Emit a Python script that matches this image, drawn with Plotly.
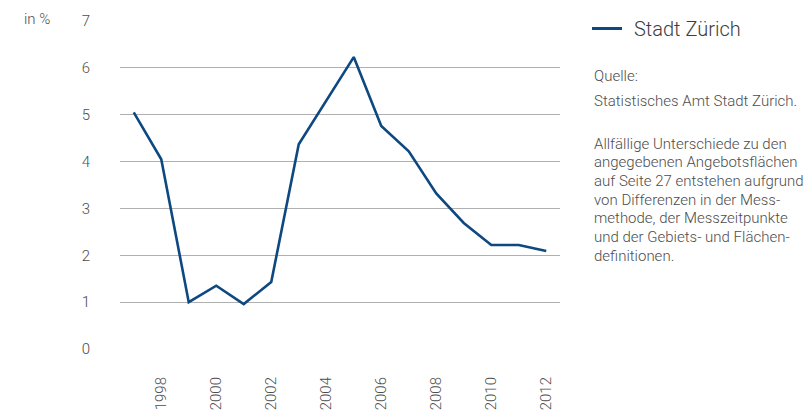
import plotly.graph_objects as go

# Leerstandsquote Stadt Zürich, in %
years = list(range(1997, 2013))
values = [5.05, 4.05, 1.0, 1.35, 0.96, 1.43, 4.37, 5.29, 6.23, 4.76, 4.22, 3.32, 2.69, 2.22, 2.22, 2.09]
y_ticks = [0, 1, 2, 3, 4, 5, 6, 7]
x_ticks = [1998, 2000, 2002, 2004, 2006, 2008, 2010, 2012]

series_name = "Stadt Zürich"
source_lines = ["Quelle:", "Statistisches Amt Stadt Zürich."]
note_lines = [
    "Allfällige Unterschiede zu den",
    "angegebenen Angebotsflächen",
    "auf Seite 27 entstehen aufgrund",
    "von Differenzen in der Mess-",
    "methode, der Messzeitpunkte",
    "und der Gebiets- und Flächen-",
    "definitionen.",
]

BLUE = "#0d4880"
TEXT = "#4d4d4d"
FONT = "Roboto Light, Roboto"
FS = 15

W, H = 807, 412
L, R, T, B = 120, 247, 21, 63
plot_w = W - L - R
plot_h = H - T - B


def px_x(px):
    return (px - L) / plot_w


def px_y(py):
    return (H - B - py) / plot_h


fig = go.Figure()
fig.add_trace(go.Scatter(
    x=years, y=values, mode="lines", name=series_name,
    line=dict(color=BLUE, width=2.6), hoverinfo="x+y",
))

fig.update_layout(
    width=W, height=H,
    margin=dict(l=L, r=R, t=T, b=B, autoexpand=False),
    paper_bgcolor="white", plot_bgcolor="white",
    font=dict(family=FONT, color=TEXT, size=FS, weight=300),
    showlegend=False,
    xaxis=dict(
        range=[1996.5, 2012.5], tickmode="array", tickvals=x_ticks,
        ticktext=[str(v) for v in x_ticks], tickangle=-90,
        showgrid=False, zeroline=False, showline=False, ticks="",
        tickfont=dict(size=FS), ticklabelstandoff=24,
    ),
    yaxis=dict(
        range=[0, 7], tickmode="array", tickvals=y_ticks,
        showgrid=True, gridcolor="#b0b0b0", gridwidth=1,
        zeroline=False, showline=False, ticks="",
        tickfont=dict(size=FS), ticklabelstandoff=29,
    ),
)

# legend key: sample line + series name
fig.add_shape(type="line", xref="paper", yref="paper",
              x0=px_x(592), x1=px_x(622), y0=px_y(28.5), y1=px_y(28.5),
              line=dict(color=BLUE, width=3))

annotations = [
    dict(x=px_x(52), y=px_y(19), text="in %", xanchor="right", yanchor="middle"),
    dict(x=px_x(632), y=px_y(29), text=series_name, xanchor="left", yanchor="middle",
         font=dict(family=FONT, size=20, color="#3d3d3d", weight=300)),
]
y0 = 76
for i, line in enumerate(source_lines):
    annotations.append(dict(x=px_x(592), y=px_y(y0 + i * 25), text=line,
                            xanchor="left", yanchor="middle"))
y1 = 143.5
for i, line in enumerate(note_lines):
    annotations.append(dict(x=px_x(592), y=px_y(y1 + i * 18.7), text=line,
                            xanchor="left", yanchor="middle"))
for a in annotations:
    a.update(xref="paper", yref="paper", showarrow=False)
    a.setdefault("font", dict(family=FONT, size=FS, color=TEXT, weight=300))
fig.update_layout(annotations=annotations)

fig.write_html("out.html")
